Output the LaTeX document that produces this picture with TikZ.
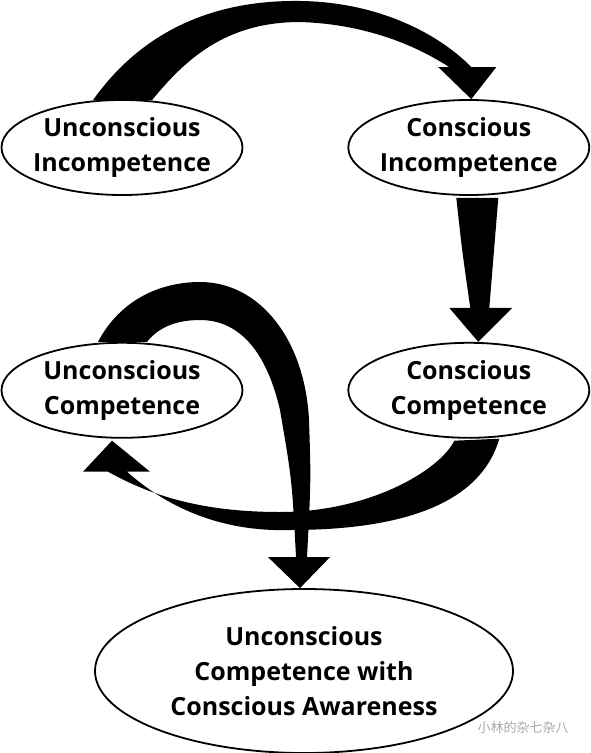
\documentclass[tikz,border=0pt]{standalone}
\usepackage{fontspec}
\setmainfont{Open Sans}
\newfontfamily\cjk{Noto Sans CJK SC}
\usepackage{tikz}
\usetikzlibrary{positioning, shapes.geometric, calc}

\begin{document}
\begin{tikzpicture}[x=1pt, y=-1pt, node distance=104pt,
    stage/.style={draw, ellipse, fill=white, line width=1.8pt, minimum width=241pt, minimum height=95pt,
        inner xsep=-8pt, inner ysep=0pt, align=center, font=\fontsize{25}{35}\selectfont\bfseries},
    band/.style={fill=black}]
        \useasboundingbox (0,0) rectangle (590,753);

        \node (unincomp) [stage] at (122,147.5) {Unconscious\\Incompetence};
        \node (conincomp) [stage, right=of unincomp] {Conscious\\Incompetence};
        \node (uncomp) [stage, below=146pt of unincomp] {Unconscious\\Competence};
        \node (concomp) [stage, below=146pt of conincomp] {Conscious\\Competence};
        \node (aware) [stage, minimum width=418pt, minimum height=164pt] at (304,671) {Unconscious\\Competence with\\Conscious Awareness};

        % arrow tips
        \coordinate (tip1) at ($(conincomp.north)+(2.5,0)$);
        \coordinate (tip2) at ($(concomp.north)+(9.5,0)$);
        \coordinate (tip3) at ($(uncomp.south)+(-10,2)$);
        \coordinate (tip4) at ($(aware.north)+(-4,0)$);

        \fill[band] ($(unincomp.north)+(-29,1)$) .. controls (150,20) and (230,0) .. (300,1)
            .. controls (380,2) and (440,35) .. ($(tip1)+(0,-32)$) -- ($(tip1)+(25,-32)$) -- (tip1)
            -- ($(tip1)+(-33,-32)$) -- ($(tip1)+(-22,-32)$) .. controls (415,45) and (365,24) .. (300,22)
            .. controls (225,22) and (185,60) .. ($(unincomp.north)+(30,1)$) -- cycle;
        \fill[band] ($(conincomp.south)+(-12.5,2)$) .. controls (462,250) .. ($(tip2)+(-8,-34)$)
            -- ($(tip2)+(-29,-34)$) -- (tip2) -- ($(tip2)+(34,-34)$) -- ($(tip2)+(11,-34)$)
            -- ($(conincomp.south)+(29.5,2)$) -- cycle;
        \fill[band] ($(concomp.south)+(30.5,0)$) .. controls (480,505) and (400,530) .. (290,530)
            .. controls (225,532) and (170,510) .. ($(tip3)+(15,31)$) -- ($(tip3)+(38,31)$) -- (tip3)
            -- ($(tip3)+(-29,31)$) -- ($(tip3)+(-4,31)$) .. controls (150,495) and (200,512) .. (280,512)
            .. controls (370,512) and (440,470) .. ($(concomp.south)+(-14.5,2)$) -- cycle;
        \fill[band] ($(uncomp.north)+(-24,0)$) .. controls (120,300) and (160,282) .. (200,282)
            .. controls (260,282) and (305,340) .. (309,420) .. controls (311,480) .. ($(tip4)+(7,-31)$)
            -- ($(tip4)+(30,-31)$) -- (tip4) -- ($(tip4)+(-32,-31)$) -- ($(tip4)+(-4,-31)$)
            .. controls (292,480) .. (280,410) .. controls (265,345) and (235,320) .. (200,320)
            .. controls (175,320) and (158,328) .. ($(uncomp.north)+(25,0)$) -- cycle;

        \node (mark) [text=gray!70, font=\cjk\fontsize{13}{13}\selectfont] at (523,728) {小林的杂七杂八};
    \end{tikzpicture}
\end{document}
